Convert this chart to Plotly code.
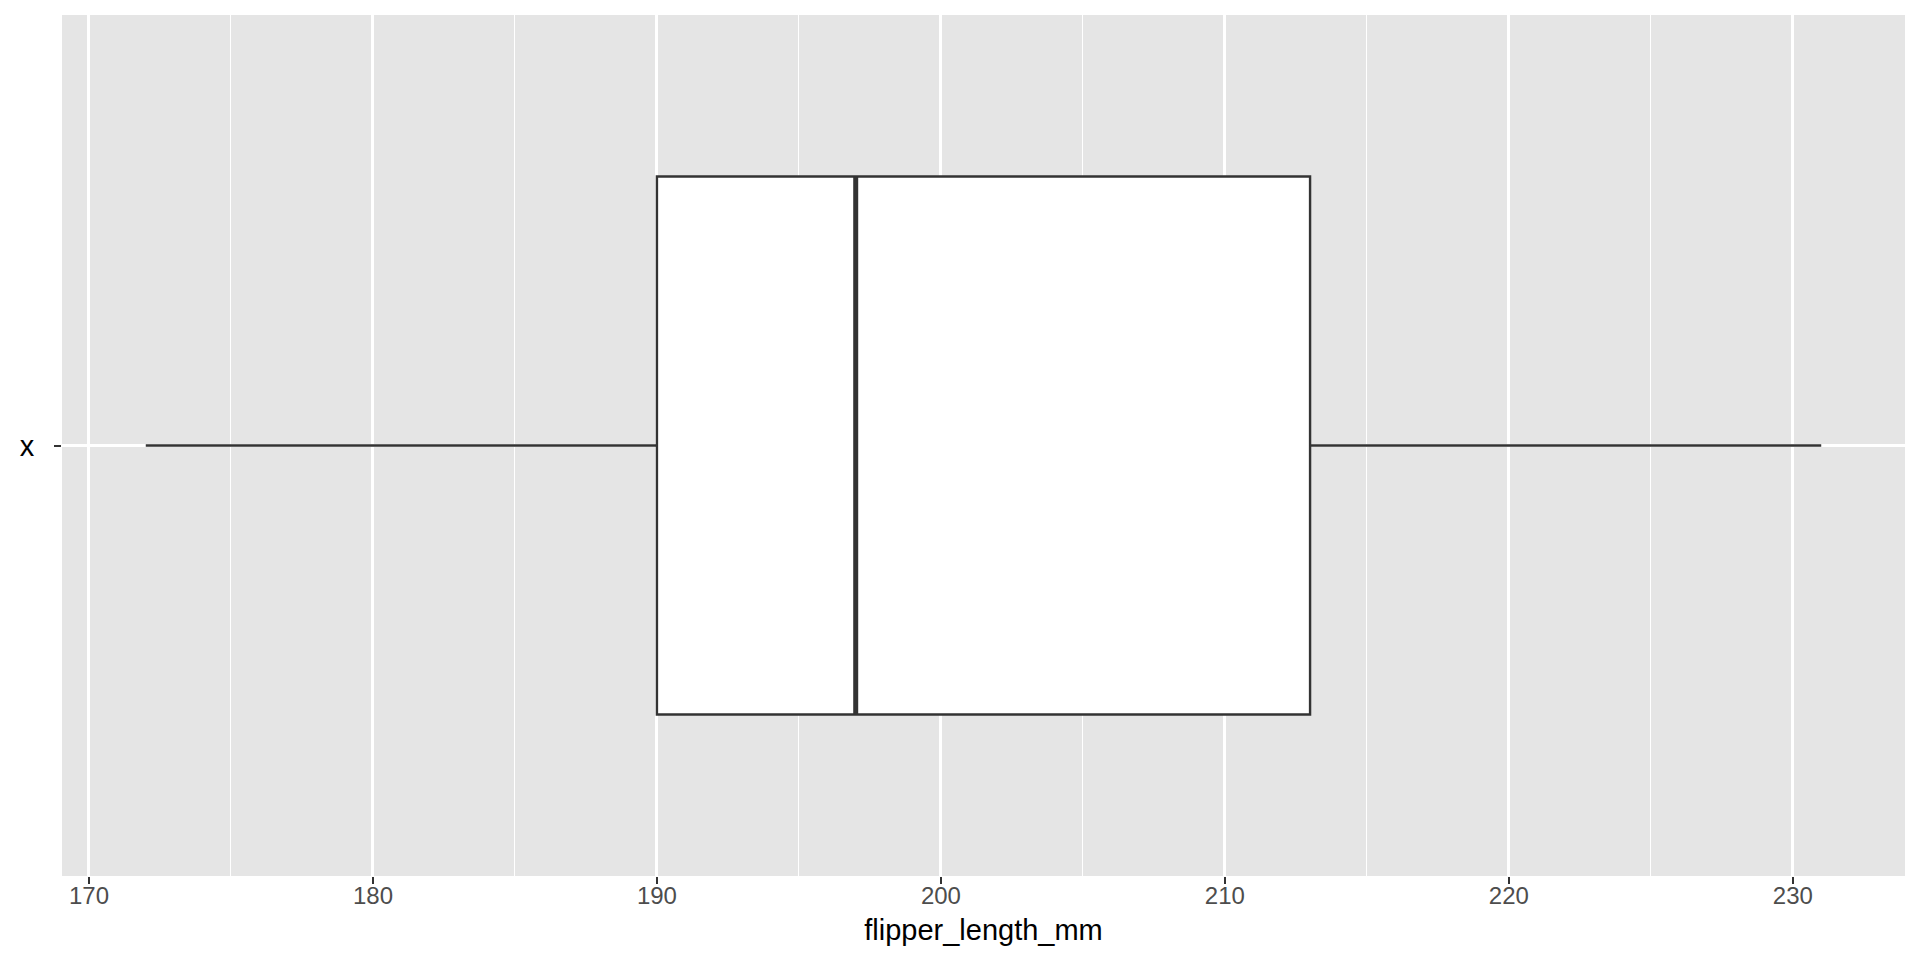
import plotly.graph_objects as go

# penguins flipper length summary (mm)
lower_whisker = [172]
q1 = [190]
median = [197]
q3 = [213]
upper_whisker = [231]
category = ["x"]
box_width = 0.75

pos = [0]
fig = go.Figure()
fig.add_trace(go.Box(
    y=pos, lowerfence=lower_whisker, q1=q1, median=median, q3=q3,
    upperfence=upper_whisker, orientation="h", width=box_width,
    whiskerwidth=0, boxpoints=False, fillcolor="white",
    line=dict(color="#333333", width=2.4), showlegend=False,
))
# ggplot draws a thicker median line
fig.add_trace(go.Scatter(
    x=[median[0], median[0]], y=[pos[0] - box_width / 2, pos[0] + box_width / 2],
    mode="lines", line=dict(color="#333333", width=5), showlegend=False,
    hoverinfo="skip",
))

lo, hi = lower_whisker[0], upper_whisker[0]
pad = (hi - lo) * 0.05

fig.update_layout(
    width=1920, height=960,
    margin=dict(l=62, r=15, t=15, b=84),
    plot_bgcolor="#E5E5E5", paper_bgcolor="white",
    font=dict(family="Liberation Sans, Arial, sans-serif"),
    xaxis=dict(
        range=[lo - pad, hi + pad], dtick=10, tick0=0, automargin=False,
        showgrid=True, gridcolor="white", gridwidth=2.6,
        minor=dict(dtick=5, tick0=0, showgrid=True, gridcolor="white", gridwidth=1.3, ticklen=0),
        ticks="outside", ticklen=7, tickwidth=2.2, tickcolor="#333333",
        tickfont=dict(size=24, color="#4D4D4D"), ticklabelstandoff=-9,
        showline=False, zeroline=False,
        title=dict(text="flipper_length_mm", font=dict(size=29, color="black"), standoff=11),
    ),
    yaxis=dict(
        range=[-0.6, 0.6], tickvals=pos, ticktext=category, automargin=False,
        showgrid=True, gridcolor="white", gridwidth=2.6,
        ticks="outside", ticklen=7, tickwidth=2.2, tickcolor="#333333",
        tickfont=dict(size=29, color="black"), ticklabelstandoff=14,
        showline=False, zeroline=False,
    ),
)

# drop the browser's default body margin so the figure sits at the page corner
fig.write_html("out.html", config={"displayModeBar": False},
               post_script="document.body.style.margin='0';")
